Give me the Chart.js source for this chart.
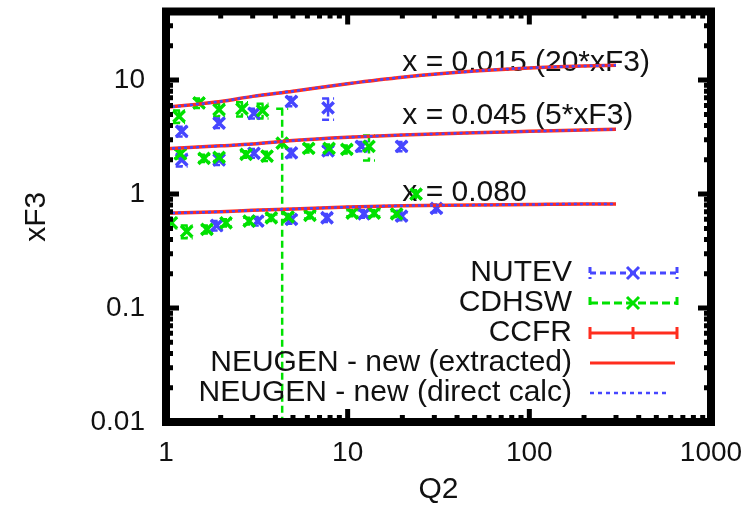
<!DOCTYPE html>
<html>
<head>
<meta charset="utf-8">
<script src="https://cdn.jsdelivr.net/npm/chart.js@4.4.1/dist/chart.umd.min.js"></script>
<style>
  html, body { margin: 0; padding: 0; background: #fff; }
</style>
</head>
<body>
<canvas id="xf3Chart" width="750" height="514"></canvas>
<script>
// NuTeV points, all three x bins in one list (Q2, xF3, error)
const nutevQ2  = [1.22, 1.96, 3.05, 4.9, 7.8,   1.22, 1.96, 3.05, 4.9, 7.8, 11.9, 19.8,   1.9, 3.2, 4.9, 7.7, 12.3, 19.8, 30.8];
const nutevXF3 = [3.55, 4.2, 5.1, 6.5, 5.7,     2.0, 2.0, 2.28, 2.3, 2.4, 2.62, 2.62,     0.53, 0.58, 0.6, 0.62, 0.67, 0.64, 0.75];
const nutevErr = [0.35, 0.4, 0.5, 0.6, 1.2,     0.25, 0.2, 0.2, 0.2, 0.2, 0.25, 0.25,     0.05, 0.05, 0.05, 0.05, 0.05, 0.05, 0.06];

// CDHSW points
const cdhswQ2  = [1.18, 1.52, 1.96, 2.62, 3.4, 4.36,   1.2, 1.62, 1.96, 2.76, 3.6, 6.1, 7.9, 9.9, 13.1,   1.07, 1.3, 1.68, 2.14, 2.87, 3.8, 4.7, 6.2, 10.6, 14.0, 18.6, 23.8];
const cdhswXF3 = [4.8, 6.3, 5.5, 5.6, 5.4, 2.8,        2.25, 2.06, 2.1, 2.23, 2.15, 2.52, 2.52, 2.47, 2.62,   0.56, 0.47, 0.49, 0.56, 0.58, 0.62, 0.63, 0.65, 0.68, 0.68, 0.67, 1.0];
const cdhswErr = [0.6, 0.6, 0.7, 0.8, 0.8, 2.8,        0.2, 0.15, 0.15, 0.15, 0.2, 0.2, 0.2, 0.2, 0.65,       0.06, 0.06, 0.04, 0.04, 0.04, 0.04, 0.04, 0.04, 0.04, 0.04, 0.04, 0.08];

// CCFR: nothing visible in the plotted range
const ccfrQ2 = [];
const ccfrXF3 = [];
const ccfrErr = [];

// NEUGEN curves
const curveQ2   = [1, 2, 3, 5, 10, 20, 50, 100, 200, 300];
const curveX015 = [5.75, 6.5, 7.2, 8.0, 9.3, 10.6, 12.0, 12.8, 13.3, 13.5];
const curveX045 = [2.5, 2.65, 2.75, 2.95, 3.15, 3.3, 3.45, 3.55, 3.65, 3.7];
const curveX080 = [0.68, 0.7, 0.72, 0.74, 0.77, 0.79, 0.8, 0.81, 0.82, 0.82];

const binLabels = ['x = 0.015 (20*xF3)', 'x = 0.045 (5*xF3)', 'x = 0.080'];
const binLabelQ2 = [20, 20, 20];
const binLabelXF3 = [14.3, 4.83, 1.02];

const legendLabels = ['NUTEV', 'CDHSW', 'CCFR', 'NEUGEN - new (extracted)', 'NEUGEN - new (direct calc)'];

const xTicks = [1, 10, 100, 1000];
const yTicks = [0.01, 0.1, 1, 10];

const BLUE = 'rgb(70,70,255)';
const GREEN = 'rgb(0,225,0)';
const RED = 'rgb(255,45,30)';
const FAMILY = '"Liberation Sans", Arial, Helvetica, sans-serif';
const FONT = { family: FAMILY, size: 28 };
const BIG = { family: FAMILY, size: 30 };
const TEXT = '#111';

function points(xs, ys) {
    return xs.map((x, i) => ({ x: x, y: ys[i] }));
}

function scatterSet(label, xs, ys, errs, color, order) {
    return {
        type: 'scatter',
        label: label,
        data: points(xs, ys),
        errors: errs,
        borderColor: color,
        backgroundColor: color,
        pointStyle: 'crossRot',
        pointRadius: 8,
        borderWidth: 3.5,
        showLine: false,
        order: order
    };
}

function curveSet(label, ys, dotted) {
    return {
        type: 'line',
        label: label,
        data: points(curveQ2, ys),
        borderColor: dotted ? BLUE : RED,
        borderWidth: dotted ? 2.5 : 3.5,
        borderDash: dotted ? [3, 3] : [],
        pointRadius: 0,
        cubicInterpolationMode: 'monotone',
        fill: false,
        order: dotted ? 0 : 1
    };
}

// error bars, under the markers
const errorBarPlugin = {
    id: 'errorBars',
    beforeDatasetsDraw(chart) {
        const { ctx, chartArea, scales } = chart;
        ctx.save();
        ctx.beginPath();
        ctx.rect(chartArea.left, chartArea.top, chartArea.right - chartArea.left, chartArea.bottom - chartArea.top);
        ctx.clip();
        chart.data.datasets.forEach(ds => {
            if (!ds.errors) return;
            ctx.strokeStyle = ds.borderColor;
            ctx.lineWidth = 2.5;
            ctx.setLineDash(ds.label === 'CCFR' ? [] : [7, 4]);
            ds.data.forEach((p, i) => {
                const e = ds.errors[i];
                const x = scales.x.getPixelForValue(p.x);
                const yHi = scales.y.getPixelForValue(p.y + e);
                const yLo = p.y - e > 0 ? scales.y.getPixelForValue(p.y - e) : chartArea.bottom + 10;
                ctx.beginPath();
                ctx.moveTo(x, yHi);
                ctx.lineTo(x, yLo);
                ctx.moveTo(x - 6, yHi);
                ctx.lineTo(x + 6, yHi);
                ctx.moveTo(x - 6, yLo);
                ctx.lineTo(x + 6, yLo);
                ctx.stroke();
            });
        });
        ctx.restore();

        // bin labels
        ctx.save();
        ctx.font = BIG.size + 'px ' + BIG.family;
        ctx.fillStyle = TEXT;
        ctx.textAlign = 'left';
        ctx.textBaseline = 'middle';
        binLabels.forEach((t, i) => {
            ctx.fillText(t, scales.x.getPixelForValue(binLabelQ2[i]), scales.y.getPixelForValue(binLabelXF3[i]));
        });
        ctx.restore();
    }
};

// gnuplot style border, inward ticks and key
const framePlugin = {
    id: 'frame',
    afterDraw(chart) {
        const { ctx, chartArea: a, scales } = chart;
        ctx.save();
        ctx.strokeStyle = '#000';
        ctx.setLineDash([]);

        // ticks
        ctx.lineWidth = 5;
        for (let d = 1; d <= 100; d *= 10) {
            for (let m = 1; m <= 9; m++) {
                const v = d * m;
                const len = m === 1 ? 13 : 7;
                const x = scales.x.getPixelForValue(v);
                ctx.beginPath();
                ctx.moveTo(x, a.bottom); ctx.lineTo(x, a.bottom - len);
                ctx.moveTo(x, a.top); ctx.lineTo(x, a.top + len);
                ctx.stroke();
            }
        }
        for (let d = 0.01; d <= 10; d *= 10) {
            for (let m = 1; m <= 9; m++) {
                const v = d * m;
                if (v > 40) break;
                const len = m === 1 ? 13 : 7;
                const y = scales.y.getPixelForValue(v);
                ctx.beginPath();
                ctx.moveTo(a.left, y); ctx.lineTo(a.left + len, y);
                ctx.moveTo(a.right, y); ctx.lineTo(a.right - len, y);
                ctx.stroke();
            }
        }
        ctx.lineWidth = 8;
        ctx.strokeRect(a.left, a.top, a.right - a.left, a.bottom - a.top);

        // key
        const textRight = 572, x0 = 590, x1 = 677, xm = 633, y0 = 273, step = 30;
        ctx.font = BIG.size + 'px ' + BIG.family;
        ctx.fillStyle = TEXT;
        ctx.textAlign = 'right';
        ctx.textBaseline = 'middle';
        legendLabels.forEach((t, i) => {
            ctx.fillText(t, textRight, y0 + i * step);
        });

        function errSample(y, color, dash, mark) {
            ctx.strokeStyle = color;
            ctx.lineWidth = 3;
            ctx.setLineDash(dash);
            ctx.beginPath();
            ctx.moveTo(x0, y); ctx.lineTo(x1, y);
            ctx.moveTo(x0, y - 6); ctx.lineTo(x0, y + 6);
            ctx.moveTo(x1, y - 6); ctx.lineTo(x1, y + 6);
            ctx.stroke();
            ctx.setLineDash([]);
            ctx.beginPath();
            if (mark) {
                ctx.moveTo(xm - 6, y - 6); ctx.lineTo(xm + 6, y + 6);
                ctx.moveTo(xm - 6, y + 6); ctx.lineTo(xm + 6, y - 6);
            } else {
                ctx.moveTo(xm, y - 6); ctx.lineTo(xm, y + 6);
            }
            ctx.stroke();
        }
        errSample(y0, BLUE, [6, 4], true);
        errSample(y0 + step, GREEN, [8, 4], true);
        errSample(y0 + 2 * step, RED, [], false);

        ctx.setLineDash([]);
        ctx.strokeStyle = RED;
        ctx.lineWidth = 3;
        ctx.beginPath();
        ctx.moveTo(x0, y0 + 3 * step); ctx.lineTo(x1 - 2, y0 + 3 * step);
        ctx.stroke();

        ctx.setLineDash([4, 4]);
        ctx.strokeStyle = BLUE;
        ctx.lineWidth = 2.5;
        ctx.beginPath();
        ctx.moveTo(x0, y0 + 4 * step); ctx.lineTo(x1 - 7, y0 + 4 * step);
        ctx.stroke();
        ctx.restore();
    }
};

const ctx = document.getElementById('xf3Chart').getContext('2d');
const chart = new Chart(ctx, {
    data: {
        datasets: [
            curveSet('NEUGEN - new (direct calc)', curveX015, true),
            curveSet('NEUGEN - new (direct calc)', curveX045, true),
            curveSet('NEUGEN - new (direct calc)', curveX080, true),
            curveSet('NEUGEN - new (extracted)', curveX015, false),
            curveSet('NEUGEN - new (extracted)', curveX045, false),
            curveSet('NEUGEN - new (extracted)', curveX080, false),
            scatterSet('CCFR', ccfrQ2, ccfrXF3, ccfrErr, RED, 2),
            scatterSet('CDHSW', cdhswQ2, cdhswXF3, cdhswErr, GREEN, 3),
            scatterSet('NUTEV', nutevQ2, nutevXF3, nutevErr, BLUE, 4)
        ]
    },
    options: {
        responsive: false,
        animation: false,
        layout: { padding: { left: 10, right: 39, top: 10, bottom: 0 } },
        plugins: {
            legend: { display: false },
            tooltip: { enabled: false }
        },
        scales: {
            x: {
                type: 'logarithmic',
                min: 1,
                max: 1000,
                grid: { display: false, drawTicks: false },
                border: { display: false },
                ticks: { font: FONT, color: TEXT, padding: 14, maxRotation: 0, autoSkip: false, callback: v => String(v) },
                afterBuildTicks: s => { s.ticks = xTicks.map(v => ({ value: v })); },
                afterFit: s => { s.height = 92; s.paddingLeft = 0; s.paddingRight = 0; },
                title: { display: true, text: 'Q2', font: BIG, color: TEXT, padding: { top: 0, bottom: 6 } }
            },
            y: {
                type: 'logarithmic',
                min: 0.01,
                max: 40,
                grid: { display: false, drawTicks: false },
                border: { display: false },
                ticks: { font: FONT, color: TEXT, padding: 21, autoSkip: false, callback: v => String(v) },
                afterBuildTicks: s => { s.ticks = yTicks.map(v => ({ value: v })); },
                afterFit: s => { s.width = 156; s.paddingTop = 0; s.paddingBottom = 0; },
                title: { display: true, text: 'xF3', font: BIG, color: TEXT, padding: { top: 9, bottom: 0 } }
            }
        }
    },
    plugins: [errorBarPlugin, framePlugin]
});
</script>
</body>
</html>
